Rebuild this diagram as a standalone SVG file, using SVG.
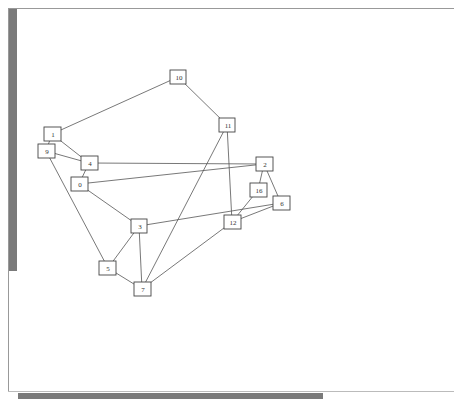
<svg xmlns="http://www.w3.org/2000/svg" width="454" height="399" viewBox="0 0 454 399">
<style>
.e{stroke:#555;stroke-width:0.8;fill:none}
.n rect{fill:#fff;stroke:#444;stroke-width:0.9}
.n text{font-family:"Liberation Serif",serif;font-size:7px;fill:#333;text-anchor:middle}
</style>
<rect width="454" height="399" fill="#fff"/>
<g id="frame">
<line x1="8" y1="8.5" x2="454" y2="8.5" stroke="#999" stroke-width="1"/>
<line x1="8.5" y1="8" x2="8.5" y2="392" stroke="#999" stroke-width="1"/>
<line x1="8" y1="391.5" x2="454" y2="391.5" stroke="#bbb" stroke-width="1"/>
<rect x="9" y="9" width="8" height="262" fill="#7a7a7a"/>
<rect x="18" y="393" width="305" height="6" fill="#7a7a7a"/>
</g>
<g id="edges">
<line class="e" x1="178" y1="77" x2="52" y2="134"/>
<line class="e" x1="178" y1="77" x2="227" y2="125"/>
<line class="e" x1="52" y1="134" x2="46" y2="151"/>
<line class="e" x1="52" y1="134" x2="89" y2="163"/>
<line class="e" x1="46" y1="151" x2="89" y2="163"/>
<line class="e" x1="46" y1="151" x2="108" y2="268"/>
<line class="e" x1="89" y1="163" x2="264" y2="164"/>
<line class="e" x1="89" y1="163" x2="79" y2="184"/>
<line class="e" x1="79" y1="184" x2="264" y2="164"/>
<line class="e" x1="79" y1="184" x2="139" y2="226"/>
<line class="e" x1="139" y1="226" x2="108" y2="268"/>
<line class="e" x1="139" y1="226" x2="142" y2="289"/>
<line class="e" x1="139" y1="226" x2="281" y2="203"/>
<line class="e" x1="227" y1="125" x2="232" y2="222"/>
<line class="e" x1="227" y1="125" x2="142" y2="289"/>
<line class="e" x1="232" y1="222" x2="142" y2="289"/>
<line class="e" x1="108" y1="268" x2="142" y2="289"/>
<line class="e" x1="264" y1="164" x2="258" y2="190"/>
<line class="e" x1="264" y1="164" x2="281" y2="203"/>
<line class="e" x1="258" y1="190" x2="232" y2="222"/>
<line class="e" x1="281" y1="203" x2="232" y2="222"/>
</g>
<g id="n10" class="n"><rect x="170" y="70" width="16" height="14"/><text x="179" y="79.5">10</text></g>
<g id="n11" class="n"><rect x="219" y="118" width="16" height="14"/><text x="228" y="127.5">11</text></g>
<g id="n1" class="n"><rect x="44" y="127" width="17" height="14"/><text x="53" y="136.5">1</text></g>
<g id="n9" class="n"><rect x="38" y="144" width="17" height="14"/><text x="47" y="153.5">9</text></g>
<g id="n4" class="n"><rect x="81" y="156" width="17" height="14"/><text x="90" y="165.5">4</text></g>
<g id="n0" class="n"><rect x="71" y="177" width="17" height="14"/><text x="80" y="186.5">0</text></g>
<g id="n2" class="n"><rect x="256" y="157" width="17" height="14"/><text x="265" y="166.5">2</text></g>
<g id="n16" class="n"><rect x="250" y="183" width="17" height="14"/><text x="259" y="192.5">16</text></g>
<g id="n6" class="n"><rect x="273" y="196" width="17" height="14"/><text x="282" y="205.5">6</text></g>
<g id="n12" class="n"><rect x="224" y="215" width="17" height="14"/><text x="233" y="224.5">12</text></g>
<g id="n3" class="n"><rect x="131" y="219" width="16" height="14"/><text x="140" y="228.5">3</text></g>
<g id="n5" class="n"><rect x="99" y="261" width="17" height="14"/><text x="108" y="270.5">5</text></g>
<g id="n7" class="n"><rect x="134" y="282" width="17" height="14"/><text x="143" y="291.5">7</text></g>
</svg>
